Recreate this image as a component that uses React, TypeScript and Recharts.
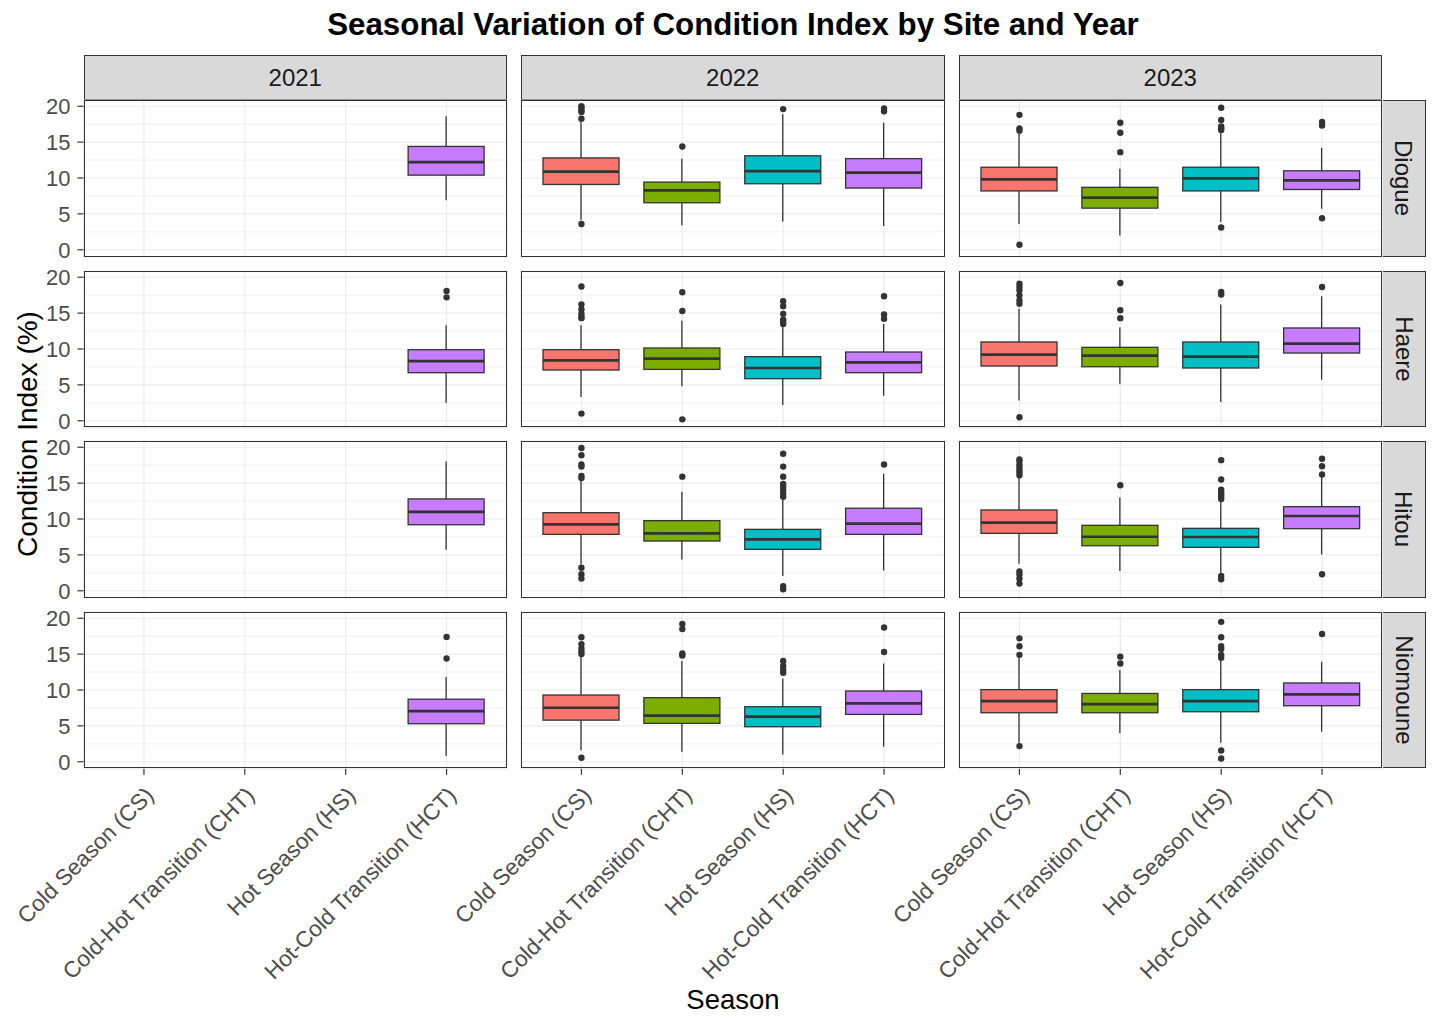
import React from 'react';
import { ComposedChart, Bar, Scatter, XAxis, YAxis, CartesianGrid } from 'recharts';

const SEASONS = ['Cold Season (CS)', 'Cold-Hot Transition (CHT)', 'Hot Season (HS)', 'Hot-Cold Transition (HCT)'];
const YEARS = ['2021', '2022', '2023'];
const SITES = ['Diogue', 'Haere', 'Hitou', 'Niomoune'];
const SEASON_COLORS = ['#F8766D', '#7CAE00', '#00BFC4', '#C77CFF'];
const Y_TICKS = [0, 5, 10, 15, 20];
const Y_MINOR = [2.5, 7.5, 12.5, 17.5];

// [lower whisker, Q1, median, Q3, upper whisker] for CS, CHT, HS, HCT
const diogue2021 = [null, null, null, [6.9, 10.4, 12.2, 14.4, 18.6]];
const diogue2022 = [[4.1, 9.1, 10.9, 12.8, 17.9], [3.4, 6.55, 8.27, 9.43, 12.7], [3.95, 9.2, 10.97, 13.1, 18.9], [3.3, 8.6, 10.74, 12.7, 17.7]];
const diogue2023 = [[3.6, 8.2, 9.8, 11.5, 16.2], [2.0, 5.8, 7.26, 8.7, 11.3], [3.86, 8.2, 9.95, 11.5, 16.4], [5.7, 8.4, 9.67, 11.0, 14.2]];
const haere2021 = [null, null, null, [2.5, 6.7, 8.3, 9.9, 13.3]];
const haere2022 = [[3.3, 7.07, 8.42, 9.9, 13.3], [4.8, 7.16, 8.65, 10.14, 13.95], [2.2, 5.86, 7.35, 8.93, 13.1], [3.5, 6.7, 8.14, 9.58, 13.5]];
const haere2023 = [[2.84, 7.63, 9.21, 10.98, 15.6], [5.16, 7.53, 9.07, 10.23, 13.0], [2.6, 7.35, 8.93, 10.98, 16.2], [5.7, 9.44, 10.74, 12.93, 17.35]];
const hitou2021 = [null, null, null, [5.7, 9.2, 11.0, 12.8, 18.0]];
const hitou2022 = [[3.67, 7.86, 9.26, 10.88, 15.3], [4.37, 6.93, 8.0, 9.77, 13.8], [2.05, 5.77, 7.16, 8.56, 12.7], [2.84, 7.86, 9.35, 11.5, 16.3]];
const hitou2023 = [[3.77, 8.0, 9.49, 11.26, 15.8], [2.74, 6.28, 7.53, 9.12, 13.0], [2.5, 6.05, 7.49, 8.7, 12.5], [5.07, 8.65, 10.42, 11.72, 15.86]];
const niomoune2021 = [null, null, null, [0.8, 5.3, 7.05, 8.72, 11.8]];
const niomoune2022 = [[1.6, 5.8, 7.53, 9.3, 14.65], [1.4, 5.35, 6.42, 8.93, 14.05], [1.0, 4.88, 6.28, 7.67, 11.6], [2.1, 6.6, 8.14, 9.86, 13.7]];
const niomoune2023 = [[2.65, 6.83, 8.45, 10.05, 14.5], [4.0, 6.83, 8.03, 9.52, 12.8], [2.65, 6.97, 8.45, 10.05, 14.2], [4.19, 7.81, 9.4, 10.98, 13.95]];

// outliers for CS, CHT, HS, HCT
const diogue2021Out = [[], [], [], []];
const diogue2022Out = [[20.0, 19.75, 19.43, 19.2, 18.27, 3.6], [14.4], [19.6], [19.7, 19.3]];
const diogue2023Out = [[18.8, 16.9, 16.6, 0.7], [17.7, 16.3, 13.6], [19.8, 18.1, 17.2, 16.9, 16.7, 3.1], [17.8, 17.3, 4.4]];
const haere2021Out = [[], [], [], [18.1, 17.2]];
const haere2022Out = [[18.7, 16.2, 15.5, 14.9, 14.5, 14.3, 1.0], [17.9, 15.3, 0.2], [16.65, 15.95, 14.9, 14.1, 13.8, 13.5], [17.35, 14.8, 14.2]];
const haere2023Out = [[19.1, 18.65, 18.2, 17.5, 16.8, 16.3, 0.5], [19.2, 15.4, 14.3], [17.95, 17.6], [18.65]];
const hitou2021Out = [[], [], [], []];
const hitou2022Out = [[19.9, 18.9, 17.6, 17.3, 16.0, 15.7, 3.2, 2.3, 1.7], [15.9], [19.1, 17.3, 15.9, 14.9, 14.5, 14.0, 13.5, 13.1, 0.65, 0.2], [17.6]];
const hitou2023Out = [[18.3, 18.1, 17.6, 17.2, 16.8, 16.5, 16.1, 2.7, 2.3, 1.7, 1.0], [14.7], [18.2, 15.5, 14.1, 13.7, 13.4, 13.1, 12.8, 2.05, 1.6], [18.4, 17.35, 16.2, 2.3]];
const niomoune2021Out = [[], [], [], [17.4, 14.4]];
const niomoune2022Out = [[17.35, 16.4, 15.8, 15.35, 15.0, 0.56], [19.2, 18.5, 15.1, 14.8], [14.05, 13.35, 12.8, 12.4], [18.7, 15.3]];
const niomoune2023Out = [[17.2, 16.1, 14.9, 2.18], [14.65, 13.7], [19.5, 17.35, 16.1, 15.7, 14.9, 14.5, 1.58, 0.46], [17.8]];

const STATS: Record<string, any[]> = {
  Diogue: [diogue2021, diogue2022, diogue2023],
  Haere: [haere2021, haere2022, haere2023],
  Hitou: [hitou2021, hitou2022, hitou2023],
  Niomoune: [niomoune2021, niomoune2022, niomoune2023],
};
const OUTLIERS: Record<string, number[][][]> = {
  Diogue: [diogue2021Out, diogue2022Out, diogue2023Out],
  Haere: [haere2021Out, haere2022Out, haere2023Out],
  Hitou: [hitou2021Out, hitou2022Out, hitou2023Out],
  Niomoune: [niomoune2021Out, niomoune2022Out, niomoune2023Out],
};

const FONT = '"Liberation Sans", Arial, Helvetica, sans-serif';
const PANEL_LEFT = [83.5, 521, 958.5];
const PANEL_W = 423.5;
const PANEL_TOP = [100, 270.5, 441, 611.5];
const PANEL_H = 156.8;
const AXIS_W = 83.5;
const X_AXIS_H = 260;
const Y_DOMAIN = [-0.98, 20.87];

const MAX_OUT = Math.max(
  ...Object.values(OUTLIERS).flatMap((years) => years.flatMap((y) => y.map((o) => o.length)))
);

const BoxShape = (props: any) => {
  const { x, y, width, height, payload } = props;
  const s = payload && payload.stats;
  if (!s || !height) return <g />;
  const [lo, q1, med, q3, hi] = s;
  const k = height / (hi - lo);
  const py = (v: number) => y + (hi - v) * k;
  const cx = x + width / 2;
  return (
    <g>
      <line x1={cx} x2={cx} y1={py(hi)} y2={py(q3)} stroke="#333333" strokeWidth={1.3} />
      <line x1={cx} x2={cx} y1={py(q1)} y2={py(lo)} stroke="#333333" strokeWidth={1.3} />
      <rect x={x} y={py(q3)} width={width} height={py(q1) - py(q3)} fill={payload.color} stroke="#333333" strokeWidth={1.3} />
      <line x1={x} x2={x + width} y1={py(med)} y2={py(med)} stroke="#333333" strokeWidth={2.7} />
    </g>
  );
};

const OutlierDot = (props: any) => {
  const { cx, cy } = props;
  if (cx == null || cy == null || Number.isNaN(cx) || Number.isNaN(cy)) return <g />;
  return <circle cx={cx} cy={cy} r={3.2} fill="#333333" />;
};

const SeasonTick = (props: any) => {
  const { x, y, payload } = props;
  return (
    <text
      x={0}
      y={0}
      transform={`translate(${x + 11},${y + 22}) rotate(-45)`}
      textAnchor="end"
      fill="#4D4D4D"
      fontSize={22.5}
      fontFamily={FONT}
    >
      {payload.value}
    </text>
  );
};

const ValueTick = (props: any) => {
  const { x, y, payload } = props;
  return (
    <text x={x} y={y} dy="0.36em" textAnchor="end" fill="#4D4D4D" fontSize={22} fontFamily={FONT}>
      {payload.value}
    </text>
  );
};

const Panel = ({ site, yearIdx, rowIdx }: { site: string; yearIdx: number; rowIdx: number }) => {
  const stats = STATS[site][yearIdx];
  const outs = OUTLIERS[site][yearIdx];
  const rows = SEASONS.map((season, i) => ({ season, color: SEASON_COLORS[i], stats: stats[i], out: outs[i] }));
  const showY = yearIdx === 0;
  const showX = rowIdx === SITES.length - 1;
  const left = showY ? PANEL_LEFT[yearIdx] - AXIS_W : PANEL_LEFT[yearIdx];
  const width = showY ? PANEL_W + AXIS_W : PANEL_W;
  const height = showX ? PANEL_H + X_AXIS_H : PANEL_H;
  return (
    <div style={{ position: 'absolute', left, top: PANEL_TOP[rowIdx], width, height }}>
      <ComposedChart width={width} height={height} data={rows} margin={{ top: 0, right: 0, bottom: 0, left: 0 }}>
        <CartesianGrid stroke="#EBEBEB" strokeWidth={0.7} vertical={false} horizontalValues={Y_MINOR} />
        <CartesianGrid stroke="#EBEBEB" strokeWidth={1.2} />
        <XAxis
          dataKey="season"
          type="category"
          hide={!showX}
          height={showX ? X_AXIS_H : 0}
          padding={{ left: 10, right: 10 }}
          interval={0}
          axisLine={false}
          tickSize={6}
          tickMargin={0}
          tickLine={{ stroke: '#333333', strokeWidth: 1.2 }}
          tick={<SeasonTick />}
        />
        <YAxis
          type="number"
          domain={Y_DOMAIN}
          ticks={Y_TICKS}
          interval={0}
          allowDataOverflow
          hide={!showY}
          width={showY ? AXIS_W : 0}
          axisLine={false}
          tickSize={6}
          tickMargin={7}
          tickLine={{ stroke: '#333333', strokeWidth: 1.2 }}
          tick={<ValueTick />}
        />
        <Bar
          dataKey={(d: any) => (d.stats ? [d.stats[0], d.stats[4]] : null)}
          barSize={76}
          shape={<BoxShape />}
          isAnimationActive={false}
        />
        {Array.from({ length: MAX_OUT }, (_, i) => (
          <Scatter
            key={i}
            dataKey={(d: any) => (d.out[i] == null ? null : d.out[i])}
            shape={<OutlierDot />}
            isAnimationActive={false}
          />
        ))}
      </ComposedChart>
      <div
        style={{
          position: 'absolute',
          left: showY ? AXIS_W : 0,
          top: 0,
          width: PANEL_W,
          height: PANEL_H,
          border: '1px solid #333333',
          boxSizing: 'border-box',
          pointerEvents: 'none',
        }}
      />
    </div>
  );
};

export default function App() {
  return (
    <div style={{ position: 'absolute', left: 0, top: 0, width: 1440, height: 1029, background: '#FFFFFF', fontFamily: FONT }}>
      <style>{'.recharts-surface{overflow:visible}'}</style>
      <svg width={1440} height={1029} style={{ position: 'absolute', left: 0, top: 0 }}>
        <text x={733} y={35} textAnchor="middle" fontSize={31.3} fontWeight="bold" fill="#000000" fontFamily={FONT}>
          Seasonal Variation of Condition Index by Site and Year
        </text>
        <text x={0} y={0} transform="translate(37,434) rotate(-90)" textAnchor="middle" fontSize={28} fill="#000000" fontFamily={FONT}>
          Condition Index (%)
        </text>
        <text x={733} y={1009} textAnchor="middle" fontSize={27.5} fill="#000000" fontFamily={FONT}>
          Season
        </text>
      </svg>
      {YEARS.map((year, c) => (
        <div
          key={year}
          style={{
            position: 'absolute',
            left: PANEL_LEFT[c],
            top: 55,
            width: PANEL_W,
            height: 45,
            background: '#D9D9D9',
            border: '1px solid #333333',
            boxSizing: 'border-box',
            display: 'flex',
            alignItems: 'center',
            justifyContent: 'center',
            fontSize: 24,
            color: '#1A1A1A',
          }}
        >
          {year}
        </div>
      ))}
      {SITES.map((site, r) => (
        <div
          key={site}
          style={{
            position: 'absolute',
            left: PANEL_LEFT[2] + PANEL_W - 1,
            top: PANEL_TOP[r],
            width: 45,
            height: PANEL_H,
            background: '#D9D9D9',
            border: '1px solid #333333',
            boxSizing: 'border-box',
            display: 'flex',
            alignItems: 'center',
            justifyContent: 'center',
            fontSize: 24,
            color: '#1A1A1A',
          }}
        >
          <span style={{ transform: 'rotate(90deg)', whiteSpace: 'nowrap' }}>{site}</span>
        </div>
      ))}
      {SITES.map((site, r) =>
        YEARS.map((year, c) => <Panel key={site + year} site={site} yearIdx={c} rowIdx={r} />)
      )}
    </div>
  );
}
